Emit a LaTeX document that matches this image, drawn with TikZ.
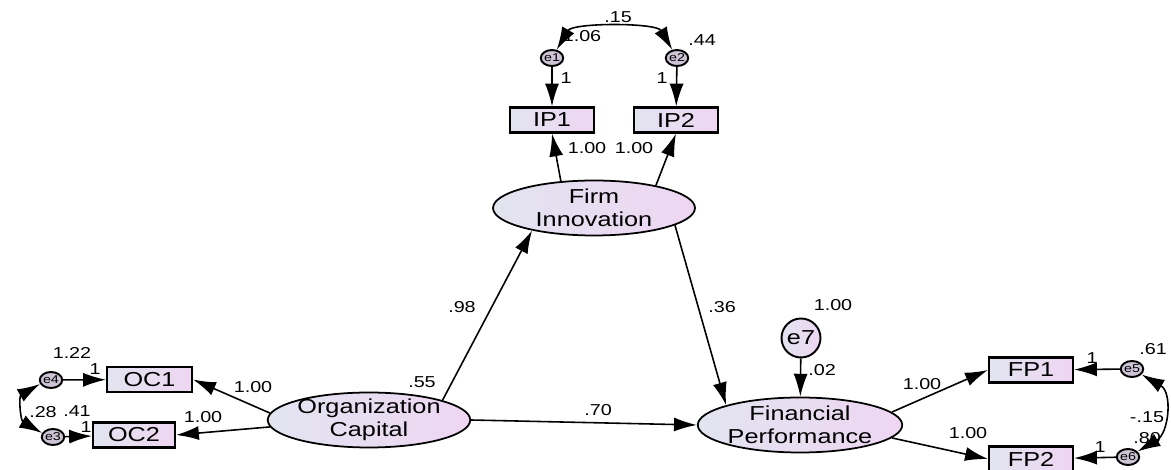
\documentclass[tikz,border=0pt]{standalone}
\usepackage{fontspec}
\setmainfont{Liberation Sans}[FakeStretch=1.25]
\usetikzlibrary{shapes.geometric,arrows.meta}
\definecolor{fillleft}{RGB}{226,228,240}
\definecolor{fillright}{RGB}{238,214,242}
\definecolor{errfill}{RGB}{205,196,214}

\begin{document}
\begin{tikzpicture}[x=0.02cm,y=0.02cm,line width=0.9pt,>={Latex[length=13pt,width=8pt]},
    latent/.style={ellipse,draw,line width=1pt,left color=fillleft,right color=fillright,minimum width=4.04cm,minimum height=1.1cm,inner sep=0pt,inner ysep=-5pt,align=center,font=\fontsize{11.5}{13}\selectfont},
    observed/.style={rectangle,draw,line width=1.2pt,left color=fillleft,right color=fillright,minimum width=1.68cm,minimum height=0.5cm,inner sep=0pt,font=\fontsize{11.5}{12}\selectfont},
    error/.style={ellipse,draw,line width=1.1pt,fill=errfill,minimum width=0.38cm,minimum height=0.32cm,inner sep=0pt,font=\fontsize{6.5}{6.5}\selectfont},
    lbl/.style={inner sep=0pt,font=\fontsize{9}{10}\selectfont}]
        \useasboundingbox (0,0) rectangle (1171,470);

        % latent variables
        \node [latent] (firm) at (594,262) {Firm\\Innovation};
        \node [latent] (orgcap) at (369,50) {Organization\\Capital};
        \node [latent] (finperf) at (800,45) {Financial\\Performance};

        % indicators
        \node [observed] (ip1) at (552,350) {IP1};
        \node [observed] (ip2) at (676,350) {IP2};
        \node [observed, minimum width=1.7cm] (oc1) at (149.5,90.5) {OC1};
        \node [observed, minimum width=1.64cm] (oc2) at (134,35) {OC2};
        \node [observed] (fp1) at (1031,100) {FP1};
        \node [observed] (fp2) at (1031,11) {FP2};

        % error terms
        \node [error] (e1) at (552,412) {e1};
        \node [error] (e2) at (677,412) {e2};
        \node [error] (e4) at (51,90) {e4};
        \node [error] (e3) at (53,33) {e3};
        \node [error] (e5) at (1132,101) {e5};
        \node [error] (e6) at (1128,13) {e6};
        \node [circle, draw, line width=1.1pt, left color=fillleft, right color=fillright, minimum size=0.78cm, inner sep=0pt, font=\fontsize{11.5}{12}\selectfont] (e7) at (801,132) {e7};

        % paths
        \path [draw] (e1) edge [->] (ip1) (e2) edge [->] (ip2);
        \path [draw] (firm.141) edge [->] (ip1.south) (firm.20) edge [->] (ip2.south);
        \path [draw] (orgcap.15) edge [->] (firm.200);
        \path [draw] (firm.-12) edge [->] (finperf.165);
        \path [draw] (orgcap.east) edge [->] (finperf.west);
        \path [draw] (e7) edge [->] (finperf);
        \path [draw] (orgcap.176) edge [->] (oc1.east) (orgcap.184) edge [->] (oc2.east);
        \path [draw] (finperf.8) edge [->] (fp1.west) (finperf.-8) edge [->] (fp2.west);
        \path [draw] (e4) edge [->] (oc1) (e3) edge [->] (oc2) (e5) edge [->] (fp1) (e6) edge [->] (fp2);

        % covariances
        \path [draw] (e1.60) edge [<->, out=60, in=120, looseness=0.7] (e2.120);
        \path [draw] (e4.200) edge [<->, out=210, in=150, looseness=1.3] (e3.160);
        \path [draw] (e5.-30) edge [<->, out=-30, in=30, looseness=1.2] (e6.30);

        % estimates
        \node [lbl] (l1) at (618,453) {.15};
        \node [lbl] (l2) at (582,434) {1.06};
        \node [lbl] (l3) at (702,430) {.44};
        \node [lbl] (l4) at (566,392) {1};
        \node [lbl] (l5) at (662,392) {1};
        \node [lbl] (l6) at (587,322) {1.00};
        \node [lbl] (l7) at (634,322) {1.00};
        \node [lbl] (l8) at (462,163) {.98};
        \node [lbl] (l9) at (422,88) {.55};
        \node [lbl] (l10) at (598,60) {.70};
        \node [lbl] (l11) at (722,163) {.36};
        \node [lbl] (l12) at (833,165) {1.00};
        \node [lbl] (l13) at (822,100) {.02};
        \node [lbl] (l14) at (253,83) {1.00};
        \node [lbl] (l15) at (203,53) {1.00};
        \node [lbl] (l16) at (72,117) {1.22};
        \node [lbl] (l17) at (95,101) {1};
        \node [lbl] (l18) at (43,58) {.28};
        \node [lbl] (l19) at (77,59) {.41};
        \node [lbl] (l20) at (86,43) {1};
        \node [lbl] (l21) at (922,86) {1.00};
        \node [lbl] (l22) at (968,37) {1.00};
        \node [lbl] (l23) at (1092,112) {1};
        \node [lbl] (l24) at (1153,121) {.61};
        \node [lbl] (l25) at (1147,53) {-.15};
        \node [lbl] (l26) at (1147,32) {.80};
        \node [lbl] (l27) at (1100,23) {1};
    \end{tikzpicture}
\end{document}
